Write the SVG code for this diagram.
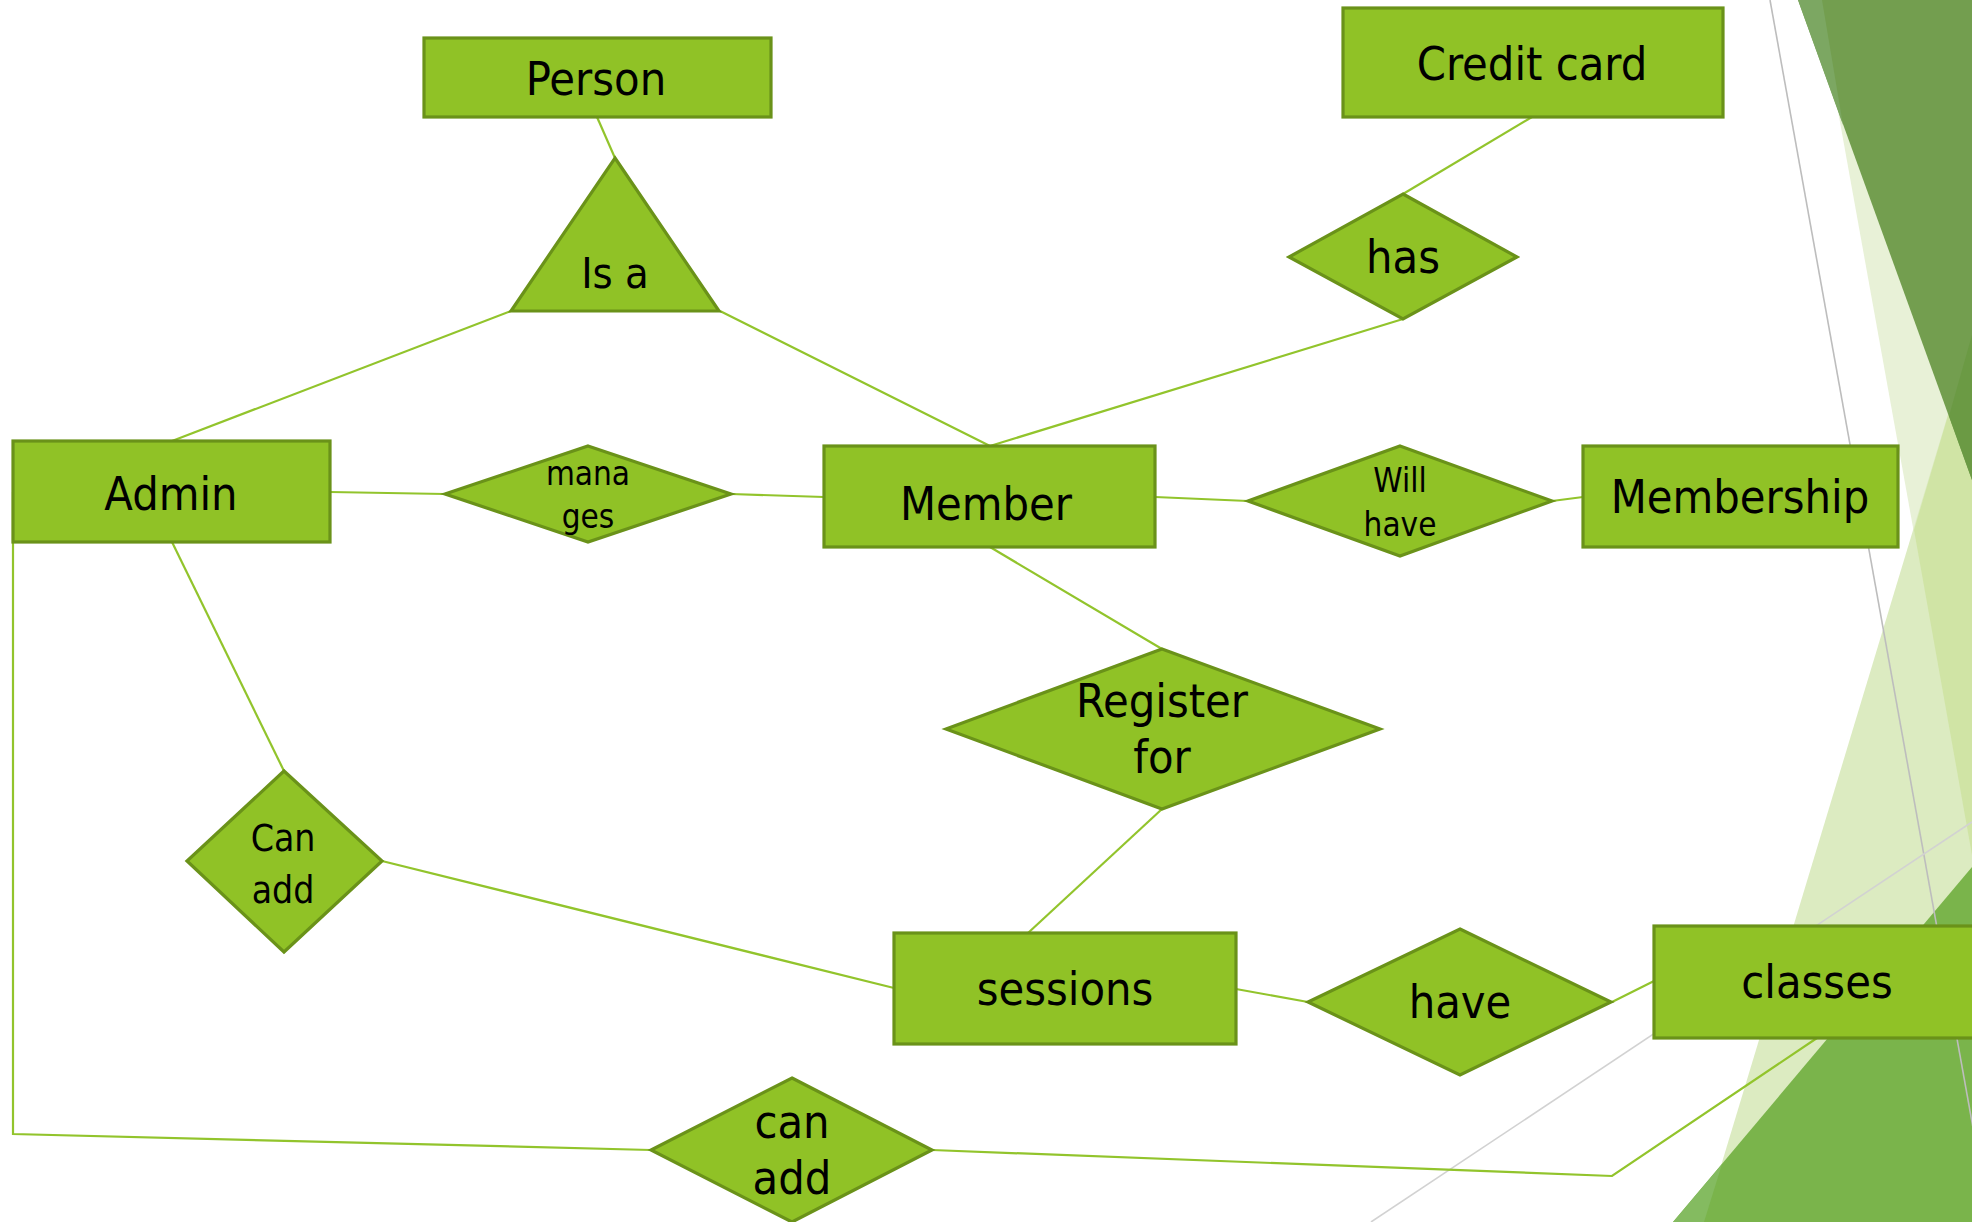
<svg xmlns="http://www.w3.org/2000/svg" width="1972" height="1222" viewBox="0 0 1972 1222">
<style>
.n{fill:#90c226;stroke:#6a9219;stroke-width:3.2;stroke-linejoin:miter}
.t{font-family:"DejaVu Sans Condensed","DejaVu Sans",sans-serif;font-stretch:condensed;fill:#000;text-anchor:middle}
.b{font-size:46.5px}
.i{font-size:43px}
.s{font-size:33px}
.m{font-size:37px}
.c{fill:none;stroke:#92c42c;stroke-width:2.2}
.g{fill:none;stroke-width:1.6}
</style>
<rect width="1972" height="1222" fill="#fff"/>
<g id="decoration">
<polygon points="1818,0 1972,0 1972,855" fill="#e8f1d7"/>
<polygon points="1972,335 1972,1222 1704,1222" fill="#dcebc1"/>
<polygon points="1972,335 1914,530 1972,855" fill="#d0e4a5"/>
<polygon points="1798,0 1972,0 1972,480" fill="#739e4f"/>
<polygon points="1798,0 1822,0 1843,125" fill="#7ca762"/>
<polygon points="1972,335 1949,416 1972,480" fill="#6b9a44"/>
<polygon points="1673,1222 1972,867 1972,1222" fill="#7ab44b"/>
<polygon points="1673,1222 1704,1222 1722,1164" fill="#84bb60"/>
<line class="g" x1="1770" y1="0" x2="1990" y2="1222" stroke="#bdbdbd"/>
<line class="g" x1="1371" y1="1222" x2="1972" y2="822" stroke="#d2d2d2"/>
</g>
<g id="connectors">
<polyline class="c" points="597,117 615,158"/>
<polyline class="c" points="511,311 172,441"/>
<polyline class="c" points="720,311 990,446"/>
<polyline class="c" points="1532,117 1403,194"/>
<polyline class="c" points="1403,319 990,446"/>
<polyline class="c" points="330,492 445,494"/>
<polyline class="c" points="731,494 824,497"/>
<polyline class="c" points="1155,497 1248,501"/>
<polyline class="c" points="1552,501 1583,497"/>
<polyline class="c" points="990,547 1162,649"/>
<polyline class="c" points="1162,809 1028,933"/>
<polyline class="c" points="172,542 284,771"/>
<polyline class="c" points="382,861 894,988"/>
<polyline class="c" points="13,492 13,1134 651,1150"/>
<polyline class="c" points="932,1150 1612,1176 1817,1038"/>
<polyline class="c" points="1236,989 1308,1002"/>
<polyline class="c" points="1612,1002 1654,981"/>
</g>
<g id="person"><rect class="n" x="424" y="38" width="347" height="79"/><text class="t b" x="596" y="95">Person</text></g>
<g id="creditcard"><rect class="n" x="1343" y="8" width="380" height="109"/><text class="t b" x="1532" y="80">Credit card</text></g>
<g id="isa"><polygon class="n" points="615,158 719,311 511,311"/><text class="t i" x="615" y="288">Is a</text></g>
<g id="has"><polygon class="n" points="1403,194 1517,257 1403,319 1289,257"/><text class="t b" x="1403" y="273">has</text></g>
<g id="admin"><rect class="n" x="13" y="441" width="317" height="101"/><text class="t b" x="171" y="510">Admin</text></g>
<g id="manages"><polygon class="n" points="588,446 731,494 588,542 445,494"/><text class="t s" x="588" y="485">mana</text><text class="t s" x="588" y="528">ges</text></g>
<g id="member"><rect class="n" x="824" y="446" width="331" height="101"/><text class="t b" x="986" y="520">Member</text></g>
<g id="willhave"><polygon class="n" points="1400,446 1552,501 1400,556 1248,501"/><text class="t s" x="1400" y="492">Will</text><text class="t s" x="1400" y="536">have</text></g>
<g id="membership"><rect class="n" x="1583" y="446" width="315" height="101"/><text class="t b" x="1740" y="513">Membership</text></g>
<g id="registerfor"><polygon class="n" points="1162,649 1380,729 1162,809 946,729"/><text class="t b" x="1162" y="717">Register</text><text class="t b" x="1162" y="773">for</text></g>
<g id="canadd1"><polygon class="n" points="284,771 382,861 284,952 187,861"/><text class="t m" x="283" y="851">Can</text><text class="t m" x="283" y="903">add</text></g>
<g id="sessions"><rect class="n" x="894" y="933" width="342" height="111"/><text class="t b" x="1065" y="1005">sessions</text></g>
<g id="have"><polygon class="n" points="1460,929 1611,1002 1460,1075 1308,1002"/><text class="t b" x="1460" y="1018">have</text></g>
<g id="classes"><rect class="n" x="1654" y="926" width="330" height="112"/><text class="t b" x="1817" y="998">classes</text></g>
<g id="canadd2"><polygon class="n" points="792,1078 932,1150 792,1222 651,1150"/><text class="t b" x="792" y="1138">can</text><text class="t b" x="792" y="1194">add</text></g>
</svg>
